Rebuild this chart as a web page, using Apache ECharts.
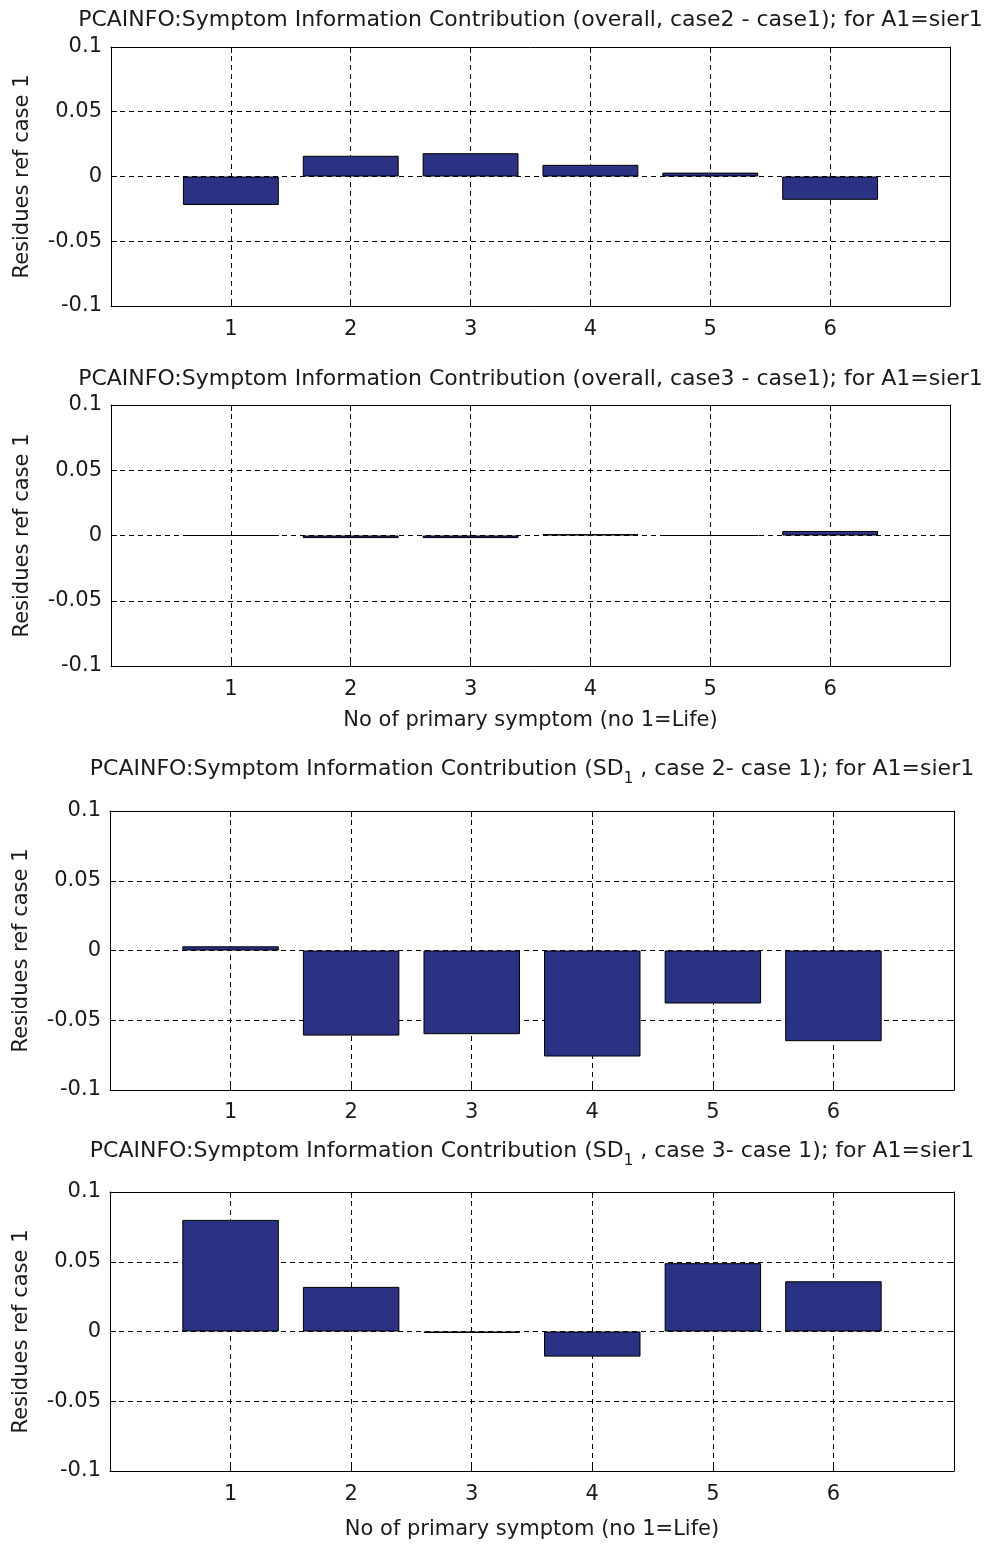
<!DOCTYPE html>
<html>
<head>
<meta charset="utf-8">
<script src="https://cdn.jsdelivr.net/npm/echarts@6/dist/echarts.min.js"></script>
<style>
html,body{margin:0;padding:0;background:#fff;}
#chart{width:987px;height:1544px;}
</style>
</head>
<body>
<div id="chart"></div>
<script>
// ---- data ----
const categories = [1, 2, 3, 4, 5, 6];
const xTickLabels = ['1', '2', '3', '4', '5', '6'];
const yTicks = [-0.1, -0.05, 0, 0.05, 0.1];
const overallCase2 = [-0.022, 0.016, 0.018, 0.009, 0.003, -0.018];
const overallCase3 = [0, -0.002, -0.002, 0.001, 0, 0.0035];
const sdCase2 = [0.003, -0.061, -0.060, -0.076, -0.038, -0.065];
const sdCase3 = [0.080, 0.032, -0.001, -0.018, 0.049, 0.036];
const titles = [
  'PCAINFO:Symptom Information Contribution (overall, case2 - case1); for A1=sier1',
  'PCAINFO:Symptom Information Contribution (overall, case3 - case1); for A1=sier1',
  ['PCAINFO:Symptom Information Contribution (SD', '1', ' , case 2- case 1); for A1=sier1'],
  ['PCAINFO:Symptom Information Contribution (SD', '1', ' , case 3- case 1); for A1=sier1']
];
const yLabel = 'Residues ref case 1';
const xLabel = 'No of primary symptom (no 1=Life)';
const panelSeries = [overallCase2, overallCase3, sdCase2, sdCase3];

// ---- layout ----
const grids = [
  {left: 111, top: 47, width: 839, height: 259, titleY: 20, xName: false, labelMargin: 13, nameGap: 44},
  {left: 111, top: 405, width: 839, height: 261, titleY: 379, xName: true, labelMargin: 13, nameGap: 44},
  {left: 110, top: 811, width: 844, height: 279, titleY: 769, xName: false, labelMargin: 12, nameGap: 44},
  {left: 110, top: 1192, width: 844, height: 279, titleY: 1151, xName: true, labelMargin: 13, nameGap: 48}
];
const FONT = 'DejaVu Sans, sans-serif';
const TXT = '#1a1a1a';
const FS = 21;
const TFS = 22;

const option = {
  backgroundColor: '#fff',
  animation: false,
  title: [],
  grid: [],
  xAxis: [],
  yAxis: [],
  series: []
};

const dash = {color: '#000', width: 1, type: [5, 4]};
const solid = {color: '#000', width: 1};

grids.forEach((g, i) => {
  const t = titles[i];
  let text;
  if (Array.isArray(t)) {
    text = '{a|' + t[0] + '}{s|' + t[1] + '}{a|' + t[2] + '}';
  } else {
    text = '{a|' + t + '}';
  }
  option.title.push({
    text: text,
    left: g.left + g.width / 2,
    top: g.titleY - 11,
    textAlign: 'center',
    padding: 0,
    textStyle: {
      fontWeight: 'normal',
      rich: {
        a: {fontFamily: FONT, fontSize: TFS, fontWeight: 'normal', color: TXT, lineHeight: 24, verticalAlign: 'top'},
        s: {fontFamily: FONT, fontSize: 15, fontWeight: 'normal', color: TXT, lineHeight: 15, padding: [14, 0, 0, 0], verticalAlign: 'top'}
      }
    }
  });
  option.grid.push({
    left: g.left, top: g.top, width: g.width, height: g.height,
    show: false
  });
  // main bottom x axis
  option.xAxis.push({
    type: 'value', gridIndex: i, min: 0, max: 7, interval: 1, position: 'bottom',
    axisLine: {show: true, onZero: false, lineStyle: solid},
    axisTick: {show: true, inside: true, length: 6, lineStyle: solid},
    axisLabel: {
      color: TXT, fontFamily: FONT, fontSize: FS, margin: g.labelMargin,
      formatter: v => { const k = categories.indexOf(v); return k >= 0 ? xTickLabels[k] : ''; }
    },
    splitLine: {show: true, lineStyle: dash},
    name: g.xName ? xLabel : '',
    nameLocation: 'middle', nameGap: g.nameGap,
    nameTextStyle: {color: TXT, fontFamily: FONT, fontSize: FS}
  });
  // main left y axis
  option.yAxis.push({
    type: 'value', gridIndex: i, min: yTicks[0], max: yTicks[yTicks.length - 1], interval: 0.05, position: 'left',
    axisLine: {show: true, onZero: false, lineStyle: solid},
    axisTick: {show: true, inside: true, length: 6, lineStyle: solid},
    axisLabel: {
      color: TXT, fontFamily: FONT, fontSize: FS, margin: 9,
      formatter: v => { let best = yTicks[0]; yTicks.forEach(y => { if (Math.abs(y - v) < Math.abs(best - v)) best = y; }); return String(best); }
    },
    splitLine: {show: true, lineStyle: dash},
    name: yLabel, nameLocation: 'middle', nameRotate: 90, nameGap: 78,
    nameTextStyle: {color: TXT, fontFamily: FONT, fontSize: FS}
  });
  const unit = g.width / 7;
  option.series.push({
    type: 'bar', xAxisIndex: i, yAxisIndex: i,
    barWidth: unit * 0.8,
    data: categories.map((c, k) => [c, panelSeries[i][k]]),
    itemStyle: {color: '#2B3183', borderColor: '#000', borderWidth: 1},
    emphasis: {disabled: true},
    z: 3
  });
});

// frame axes (top and right) for each panel
grids.forEach((g, i) => {
  option.xAxis.push({
    type: 'value', gridIndex: i, min: 0, max: 7, interval: 1, position: 'top',
    axisLine: {show: true, onZero: false, lineStyle: solid},
    axisTick: {show: true, inside: true, length: 6, lineStyle: solid},
    axisLabel: {show: false}, splitLine: {show: false}, z: 4
  });
  option.yAxis.push({
    type: 'value', gridIndex: i, min: yTicks[0], max: yTicks[yTicks.length - 1], interval: 0.05, position: 'right',
    axisLine: {show: true, onZero: false, lineStyle: solid},
    axisTick: {show: true, inside: true, length: 6, lineStyle: solid},
    axisLabel: {show: false}, splitLine: {show: false}, z: 4
  });
});

const chart = echarts.init(document.getElementById('chart'), null, {renderer: 'canvas'});
chart.setOption(option);
</script>
</body>
</html>
